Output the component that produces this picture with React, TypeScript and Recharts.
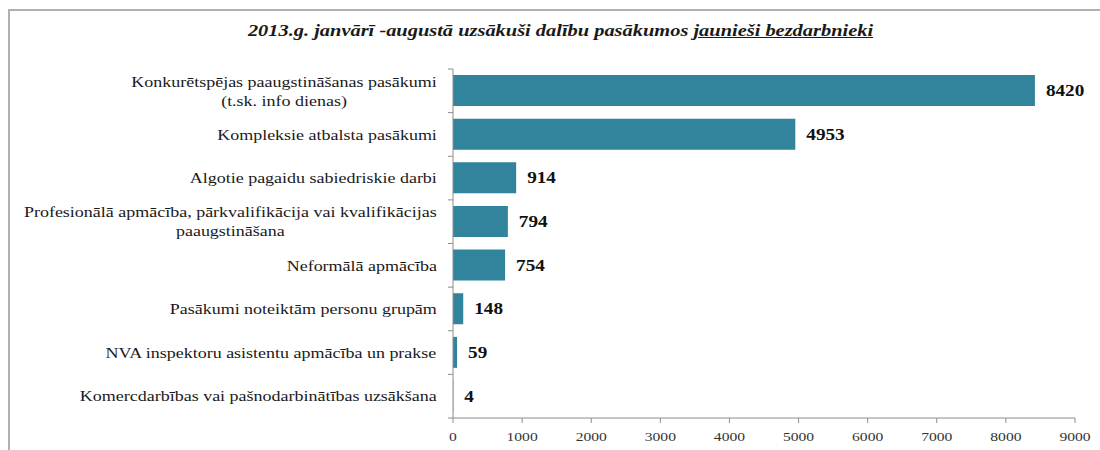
import { Bar, BarChart, LabelList, XAxis, YAxis } from "recharts";

const categories = [
  "Konkurētspējas paaugstināšanas pasākumi\n(t.sk. info dienas)",
  "Kompleksie atbalsta pasākumi",
  "Algotie pagaidu sabiedriskie darbi",
  "Profesionālā apmācība, pārkvalifikācija vai kvalifikācijas\npaaugstināšana",
  "Neformālā apmācība",
  "Pasākumi noteiktām personu grupām",
  "NVA inspektoru asistentu apmācība un prakse",
  "Komercdarbības vai pašnodarbinātības uzsākšana",
];

const participants = [8420, 4953, 914, 794, 754, 148, 59, 4];

const xTicks = [0, 1000, 2000, 3000, 4000, 5000, 6000, 7000, 8000, 9000];

const data = categories.map((name, i) => ({ name, value: participants[i] }));

const SERIF = "'Liberation Serif', 'Times New Roman', serif";
const AXIS = "#8c8c8c";
const BAND = (418 - 69) / categories.length;
// the source image is stretched sideways, so text is widened to match
const STRETCH = 1.2;
const LABEL_SIZE = 15;

let ctx: CanvasRenderingContext2D | null = null;
function textWidth(s: string, font: string) {
  if (!ctx) ctx = document.createElement("canvas").getContext("2d");
  if (!ctx) return s.length * 7;
  ctx.font = font;
  return ctx.measureText(s).width;
}

function CategoryTick(props: any) {
  const { x, y, payload, index } = props;
  const lines = String(payload.value).split("\n");
  const axisX = x + 8;
  const maxW = Math.max(...lines.map((l) => textWidth(l, `${LABEL_SIZE}px ${SERIF}`)));
  const lh = 19;
  const top = y - ((lines.length - 1) * lh) / 2;
  return (
    <g>
      <line x1={axisX - 5} x2={axisX} y1={y - BAND / 2} y2={y - BAND / 2} stroke={AXIS} />
      {index === categories.length - 1 && (
        <line x1={axisX - 5} x2={axisX} y1={y + BAND / 2} y2={y + BAND / 2} stroke={AXIS} />
      )}
      <g transform={`translate(${axisX - 16},${top}) scale(${STRETCH},1)`}>
        {lines.map((l, i) => (
          <text
            key={l}
            x={-maxW / 2}
            y={i * lh}
            dy="0.35em"
            textAnchor="middle"
            style={{ fontFamily: SERIF, fontSize: LABEL_SIZE }}
            fill="#1a1a1a"
          >
            {l}
          </text>
        ))}
      </g>
    </g>
  );
}

function ValueTick(props: any) {
  const { x, y, payload } = props;
  return (
    <g transform={`translate(${x},${y + 6}) scale(${STRETCH},1)`}>
      <text dy="0.75em" textAnchor="middle" style={{ fontFamily: SERIF, fontSize: 13 }} fill="#333">
        {payload.value}
      </text>
    </g>
  );
}

function BarValue(props: any) {
  const { x, y, width, height, value } = props;
  return (
    <g transform={`translate(${x + width + 11},${y + height / 2}) scale(${STRETCH},1)`}>
      <text dy="0.35em" style={{ fontFamily: SERIF, fontSize: 16, fontWeight: "bold" }} fill="#111">
        {value}
      </text>
    </g>
  );
}

export default function App() {
  return (
    <div
      style={{
        position: "absolute",
        left: 0,
        top: 0,
        width: 1100,
        height: 450,
        background: "#fff",
        fontFamily: SERIF,
      }}
    >
      <div
        style={{
          position: "absolute",
          left: 8,
          top: 9,
          right: 0,
          bottom: 0,
          borderTop: "2px solid #b0b0b0",
          borderLeft: "2px solid #b0b0b0",
        }}
      />
      <div
        style={{
          position: "absolute",
          left: 0,
          width: 1120,
          top: 21,
          textAlign: "center",
          fontWeight: "bold",
          fontStyle: "italic",
          fontSize: 17,
          color: "#1a1a1a",
        }}
      >
        <span style={{ display: "inline-block", transform: `scaleX(${STRETCH})` }}>
          2013.g. janvārī -augustā uzsākuši dalību pasākumos{" "}
          <span style={{ textDecoration: "underline" }}>jaunieši bezdarbnieki</span>
        </span>
      </div>
      <BarChart
        width={1100}
        height={450}
        data={data}
        layout="vertical"
        barCategoryGap="14%"
        margin={{ top: 69, right: 25, bottom: 2, left: 0 }}
        style={{ position: "absolute", left: 0, top: 0, fontFamily: SERIF }}
      >
        <XAxis
          type="number"
          domain={[0, 9000]}
          ticks={xTicks}
          interval={0}
          height={30}
          stroke={AXIS}
          tickSize={5}
          tick={<ValueTick />}
        />
        <YAxis
          type="category"
          dataKey="name"
          width={453}
          stroke={AXIS}
          tickLine={false}
          interval={0}
          tick={<CategoryTick />}
        />
        <Bar dataKey="value" fill="#31849b" isAnimationActive={false}>
          <LabelList dataKey="value" content={<BarValue />} />
        </Bar>
      </BarChart>
    </div>
  );
}
